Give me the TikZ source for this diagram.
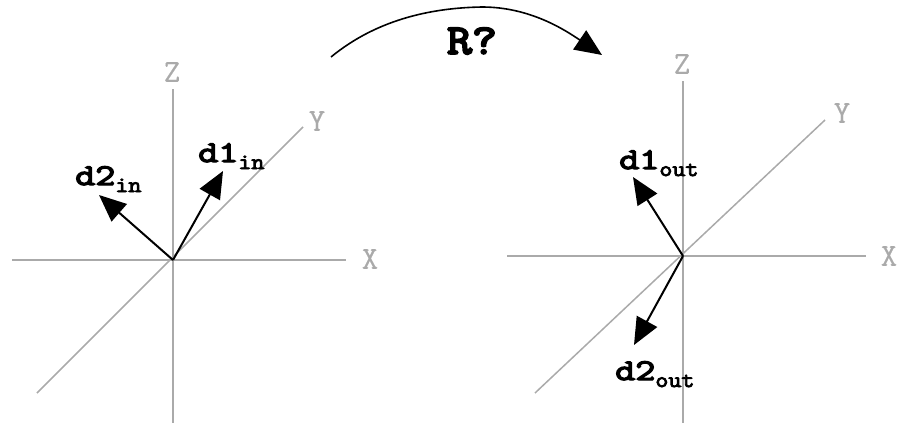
\documentclass[tikz,border=0pt]{standalone}
\usepackage{fontspec}
\usetikzlibrary{arrows.meta}
\newfontfamily\axfont[FakeBold=0.5]{Latin Modern Mono}
\newfontfamily\lblfont[FakeStretch=1.3,FakeBold=4.5]{Latin Modern Mono}
\newfontfamily\subfont[FakeStretch=1.15,FakeBold=4]{Latin Modern Mono}
\newfontfamily\rfont[FakeStretch=1.15,FakeBold=5]{Latin Modern Mono}
\definecolor{axgray}{HTML}{AAAAAA}
\newcommand{\sublbl}[1]{\raisebox{-7pt}{\subfont\fontsize{22}{22}\selectfont #1}}
\tikzset{
  axis/.style={draw=axgray, line width=1.5pt},
  axlbl/.style={text=axgray, font=\axfont\fontsize{32}{32}\selectfont, inner sep=0pt},
  vec/.style={draw=black, line width=2pt, -{Triangle[length=27pt,width=23pt]}},
  lbl/.style={font=\lblfont\fontsize{30}{30}\selectfont, inner sep=0pt, anchor=base west},
}
\begin{document}
\begin{tikzpicture}[x=1pt,y=-1pt]
\useasboundingbox (0,0) rectangle (901,423);
% left system
\coordinate (O1) at (173,260);
\coordinate (Z1t) at (173,89);
\coordinate (Z1b) at (173,423);
\coordinate (X1l) at (12,260);
\coordinate (X1r) at (346,260);
\coordinate (Y1t) at (303,127);
\coordinate (Y1b) at (37,393);
\draw[axis] (Z1t) -- (Z1b);
\draw[axis] (X1l) -- (X1r);
\draw[axis] (Y1b) -- (Y1t);
\node[axlbl] (zl1) at (172,72) {Z};
\node[axlbl] (yl1) at (317,121) {Y};
\node[axlbl] (xl1) at (370,259) {X};
\coordinate (d1inT) at (223,171);
\coordinate (d2inT) at (99,195);
\draw[vec] (O1) -- (d1inT);
\draw[vec] (O1) -- (d2inT);
\node[lbl] (d1inL) at (198,162) {d1\sublbl{in}};
\node[lbl] (d2inL) at (75,185) {d2\sublbl{in}};
% right system
\coordinate (O2) at (683,256);
\coordinate (Z2t) at (683,81);
\coordinate (Z2b) at (683,423);
\coordinate (X2l) at (507,256);
\coordinate (X2r) at (866,256);
\coordinate (Y2t) at (825,120);
\coordinate (Y2b) at (535,393);
\draw[axis] (Z2t) -- (Z2b);
\draw[axis] (X2l) -- (X2r);
\draw[axis] (Y2b) -- (Y2t);
\node[axlbl] (zl2) at (682,64) {Z};
\node[axlbl] (yl2) at (842,113) {Y};
\node[axlbl] (xl2) at (889,256) {X};
\coordinate (d1outT) at (633,177);
\coordinate (d2outT) at (634,345);
\draw[vec] (O2) -- (d1outT);
\draw[vec] (O2) -- (d2outT);
\node[lbl] (d1outL) at (619,169) {d1\sublbl{out}};
\node[lbl] (d2outL) at (615,380) {d2\sublbl{out}};
% rotation arc
\coordinate (As) at (331,57);
\coordinate (Am) at (482,7);
\coordinate (Ae) at (602,55);
\draw[vec, line width=1.6pt] (As) .. controls (370,25) and (420,8) .. (Am) .. controls (530,7) and (565,30) .. (Ae);
\node[font=\rfont\fontsize{42}{42}\selectfont, inner sep=0pt] (R) at (472,41) {R?};
\end{tikzpicture}
\end{document}
